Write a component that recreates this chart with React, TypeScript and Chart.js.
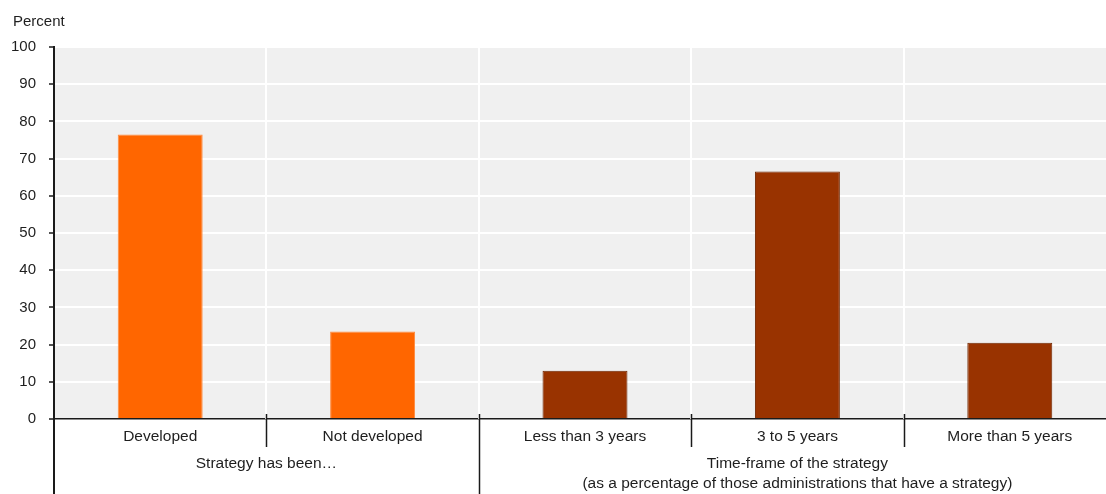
import React, { useEffect, useRef } from "react";
import { Chart, registerables } from "chart.js";

Chart.register(...registerables);

const categories = ["Developed", "Not developed", "Less than 3 years", "3 to 5 years", "More than 5 years"];
const values = [76.5, 23.5, 13, 66.5, 20.5];
const barColors = ["#ff6600", "#ff6600", "#993300", "#993300", "#993300"];
const barBorders = ["#ff8a3d", "#ff8a3d", "#6e2600", "#6e2600", "#6e2600"];
const groupLabels = [
  { from: 0, to: 1, lines: ["Strategy has been…"] },
  { from: 2, to: 4, lines: ["Time-frame of the strategy", "(as a percentage of those administrations that have a strategy)"] },
];
const yTicks = [0, 10, 20, 30, 40, 50, 60, 70, 80, 90, 100];
const yTitle = "Percent";

const FONT = "'Liberation Sans', Arial, sans-serif";
const TEXT = "#1e1e1e";

export default function App() {
  const ref = useRef<HTMLCanvasElement | null>(null);
  useEffect(() => {
    const canvas = ref.current!;
    const decor = {
      id: "decor",
      beforeDraw(chart: any) {
        const { ctx, chartArea: a } = chart;
        ctx.save();
        ctx.fillStyle = "#f0f0f0";
        ctx.fillRect(a.left, a.top, a.right - a.left, a.bottom - a.top);
        ctx.restore();
      },
      beforeDatasetsDraw(chart: any) {
        const { ctx, chartArea: a } = chart;
        const x = chart.scales.x;
        ctx.save();
        ctx.strokeStyle = "#ffffff";
        ctx.lineWidth = 2;
        for (let i = 0; i < categories.length - 1; i++) {
          const px = Math.round((x.getPixelForValue(i) + x.getPixelForValue(i + 1)) / 2);
          ctx.beginPath();
          ctx.moveTo(px, a.top);
          ctx.lineTo(px, a.bottom);
          ctx.stroke();
        }
        ctx.restore();
      },
      afterDraw(chart: any) {
        const { ctx, chartArea: a } = chart;
        const x = chart.scales.x;
        const H = chart.height;
        ctx.save();
        ctx.strokeStyle = "#1a1a1a";
        ctx.lineWidth = 1.5;
        const groupEnds = groupLabels.map((g) => g.to);
        for (let i = 0; i < categories.length - 1; i++) {
          const px = Math.round((x.getPixelForValue(i) + x.getPixelForValue(i + 1)) / 2) + 0.5;
          const isGroup = groupEnds.includes(i);
          ctx.beginPath();
          ctx.moveTo(px, a.bottom - 5);
          ctx.lineTo(px, isGroup ? H : 447);
          ctx.stroke();
        }
        ctx.lineWidth = 2;
        ctx.beginPath();
        ctx.moveTo(a.left, a.bottom);
        ctx.lineTo(a.left, H);
        ctx.stroke();
        ctx.fillStyle = TEXT;
        ctx.font = `15.5px ${FONT}`;
        ctx.textAlign = "center";
        ctx.textBaseline = "middle";
        groupLabels.forEach((g) => {
          const cx = (x.getPixelForValue(g.from) + x.getPixelForValue(g.to)) / 2;
          g.lines.forEach((l, k) => ctx.fillText(l, cx, 464 + k * 19.5));
        });
        ctx.font = `15px ${FONT}`;
        ctx.textAlign = "left";
        ctx.fillText(yTitle, 13, 22);
        ctx.restore();
      },
    };
    const chart = new Chart(canvas, {
      type: "bar",
      data: {
        labels: categories,
        datasets: [
          {
            data: values,
            backgroundColor: barColors,
            borderColor: barBorders,
            borderWidth: 1,
            barPercentage: 0.4,
            categoryPercentage: 1,
          },
        ],
      },
      options: {
        animation: false,
        responsive: false,
        devicePixelRatio: 1,
        layout: { padding: { top: 47, left: 0, right: 0, bottom: 0 } },
        plugins: { legend: { display: false }, tooltip: { enabled: false }, title: { display: false } },
        scales: {
          x: {
            type: "category",
            offset: true,
            grid: { display: false, drawTicks: false },
            border: { display: true, color: "#1a1a1a", width: 1.5 },
            ticks: { color: TEXT, font: { family: FONT, size: 15.5 }, padding: 8, maxRotation: 0, autoSkip: false },
            afterFit(scale: any) {
              scale.height = 75;
            },
          },
          y: {
            min: 0,
            max: 100,
            afterBuildTicks(scale: any) {
              scale.ticks = yTicks.map((v) => ({ value: v }));
            },
            grid: { color: "#ffffff", lineWidth: 2, drawTicks: true, tickLength: 5, tickColor: "#1a1a1a", tickWidth: 1.5 },
            border: { display: true, color: "#1a1a1a", width: 2 },
            ticks: { color: TEXT, font: { family: FONT, size: 15 }, padding: 13 },
            afterFit(scale: any) {
              scale.width = 54;
            },
          },
        },
      },
      plugins: [decor],
    });
    return () => chart.destroy();
  }, []);
  return (
    <div style={{ position: "absolute", left: 0, top: 0, width: 1106, height: 494, overflow: "hidden", background: "#fff" }}>
      <canvas ref={ref} width={1116} height={494} style={{ display: "block", width: 1116, height: 494 }} />
    </div>
  );
}
